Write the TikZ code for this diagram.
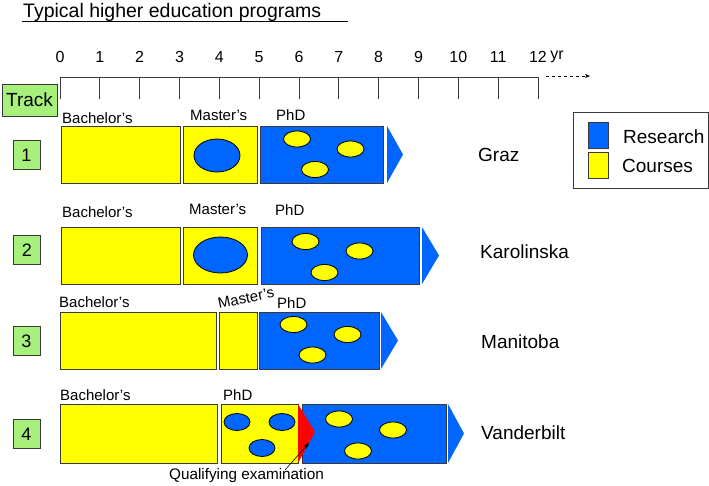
\documentclass[tikz,border=0pt]{standalone}
\usepackage{fontspec}
\setmainfont{Liberation Sans}
\usetikzlibrary{arrows.meta,positioning}
\definecolor{course}{HTML}{FFFF00}
\definecolor{research}{HTML}{0066FF}
\definecolor{trackgreen}{HTML}{A8F07C}
\definecolor{edge}{HTML}{3A3A3A}
\definecolor{qred}{HTML}{FF0000}
\newcommand{\fs}[1]{\fontsize{#1}{#1}\selectfont}

\begin{document}
\begin{tikzpicture}[
  x=1pt, y=-1pt,
  bar/.style={draw=edge, line width=0.8pt, anchor=north west, inner sep=0pt, outer sep=0pt, minimum height=57},
  coursebar/.style={bar, fill=course},
  resbar/.style={bar, fill=research},
  numbox/.style={draw=edge, fill=trackgreen, line width=0.8pt, minimum width=27, minimum height=29, inner sep=0pt, font=\fs{18}},
  lbl/.style={anchor=base west, inner sep=0pt, font=\fs{15}},
  school/.style={anchor=west, inner sep=0pt, font=\fs{19}},
  axnum/.style={inner sep=0pt, font=\fs{16}},
  yblob/.style={fill=course, draw=black, line width=0.8pt},
  bblob/.style={fill=research, draw=black, line width=0.8pt},
  tick/.style={draw=edge, line width=0.8pt}
]
\useasboundingbox (0,0) rectangle (709,485);

% title
\node[anchor=west, inner sep=0pt, font=\fs{19.5}] (title) at (23,12) {Typical higher education programs};
\draw[line width=0.8pt] (22,21) -- (348,21);

% time axis
\draw[tick] (60,77) -- (538,77);
\foreach \i in {0,...,12} {
  \draw[tick] (60+\i*39.83,77) -- (60+\i*39.83,99);
  \node[axnum] (n\i) at (60+\i*39.83,57) {\i};
}
\node[axnum, anchor=west] (yr) at ([xshift=3pt]n12.east) {yr};
\coordinate (axend) at (546,76);
\coordinate (axgo) at (590,76);
\draw[dashed, line width=0.7pt, -{Stealth[length=5pt,width=4pt]}] (axend) -- (axgo);

\node[numbox, minimum width=55, minimum height=32, font=\fs{19}] (track) at (29.5,100) {Track};

% track 1
\node[numbox] (t1) at (26.5,155) {1};
\node[coursebar, minimum width=119] (b1) at (61,126) {};
\node[coursebar, minimum width=74] (m1) at (183,126) {};
\node[resbar, minimum width=123] (p1) at (260,126) {};
\fill[research] ([xshift=4pt]p1.north east) -- ([xshift=20pt]p1.east) -- ([xshift=4pt]p1.south east) -- cycle;
\filldraw[bblob] (217,155.5) ellipse [x radius=23pt, y radius=16.5pt];
\foreach \cx/\cy in {297/139, 350.5/149, 315/169.5}
  \filldraw[yblob] (\cx,\cy) ellipse [x radius=13.5pt, y radius=8pt];
\node[lbl] at (62,123) {Bachelor’s};
\node[lbl] at (190,120) {Master’s};
\node[lbl] at (276,120) {PhD};
\node[school] (graz) at (478,155) {Graz};

% track 2
\node[numbox] (t2) at (27,250) {2};
\node[coursebar, minimum width=119] (b2) at (61,227) {};
\node[coursebar, minimum width=74] (m2) at (183,227) {};
\node[resbar, minimum width=158] (p2) at (261,227) {};
\fill[research] ([xshift=3pt]p2.north east) -- ([xshift=20pt]p2.east) -- ([xshift=3pt]p2.south east) -- cycle;
\filldraw[bblob] (220.5,255) ellipse [x radius=27pt, y radius=18pt];
\foreach \cx/\cy in {305.5/241.5, 359.5/251, 324.5/272.5}
  \filldraw[yblob] (\cx,\cy) ellipse [x radius=13.5pt, y radius=8pt];
\node[lbl] at (62,217) {Bachelor’s};
\node[lbl] at (189,214) {Master’s};
\node[lbl] at (275,215) {PhD};
\node[school] (karolinska) at (480,252) {Karolinska};

% track 3
\node[numbox] (t3) at (26.5,341) {3};
\node[coursebar, minimum width=156] (b3) at (60,312) {};
\node[coursebar, minimum width=38] (m3) at (219,312) {};
\node[resbar, minimum width=120] (p3) at (259,312) {};
\fill[research] ([xshift=2pt]p3.north east) -- ([xshift=19pt]p3.east) -- ([xshift=2pt]p3.south east) -- cycle;
\foreach \cx/\cy in {293.5/324.5, 347.5/334.5, 312.5/355}
  \filldraw[yblob] (\cx,\cy) ellipse [x radius=13.5pt, y radius=8pt];
\node[lbl] at (59,307) {Bachelor’s};
\node[lbl, rotate=12] at (219,309) {Master’s};
\node[lbl] at (277,308) {PhD};
\node[school] (manitoba) at (481,342) {Manitoba};

% track 4
\node[numbox] (t4) at (26.5,434) {4};
\node[coursebar, minimum width=157, minimum height=59] (b4) at (60,404) {};
\node[coursebar, minimum width=77, minimum height=59] (c4) at (221,404) {};
\node[resbar, minimum width=144, minimum height=59] (p4) at (302,404) {};
\fill[research] ([xshift=2pt]p4.north east) -- ([xshift=18pt]p4.east) -- ([xshift=2pt]p4.south east) -- cycle;
\fill[qred] (298,404) -- (315,432) -- (298,463) -- cycle;
\foreach \cx/\cy in {237/422, 282/422, 262/448}
  \filldraw[bblob] (\cx,\cy) ellipse [x radius=13pt, y radius=8.5pt];
\foreach \cx/\cy in {339/419, 393/430, 358/451}
  \filldraw[yblob] (\cx,\cy) ellipse [x radius=13.5pt, y radius=8pt];
\node[lbl] at (60,400) {Bachelor’s};
\node[lbl] at (223,400) {PhD};
\node[school] (vanderbilt) at (481,433) {Vanderbilt};
\node[inner sep=0pt, font=\fs{15.3}] (qual) at (246.5,476) {Qualifying examination};
\coordinate (qfoot) at (285,470);
\coordinate (qtip) at (309,443);
\draw[line width=0.6pt, -{Stealth[length=6pt,width=4pt]}] (qfoot) -- (qtip);

% legend
\node[draw=edge, line width=0.8pt, anchor=north west, minimum width=135, minimum height=76, inner sep=0pt] (legend) at (573,112) {};
\node[resbar, minimum width=20, minimum height=26] (lres) at (588,122) {};
\node[coursebar, minimum width=20, minimum height=26] (lcrs) at (588,152) {};
\node[school] at (623,137) {Research};
\node[school] at (622,166) {Courses};
\end{tikzpicture}
\end{document}
